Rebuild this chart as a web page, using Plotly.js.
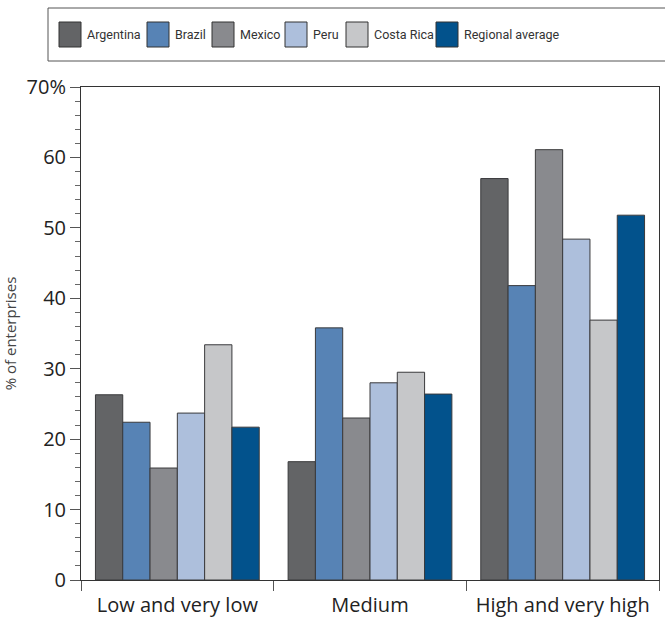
<!DOCTYPE html>
<html>
<head>
<meta charset="utf-8">
<script src="https://cdn.plot.ly/plotly-3.0.1.min.js"></script>
<style>html,body{margin:0;padding:0;background:#fff;}#chart{width:665px;height:618px;}</style>
</head>
<body>
<div id="chart"></div>
<script>
var categories = ["Low and very low", "Medium", "High and very high"];
var seriesNames = ["Argentina", "Brazil", "Mexico", "Peru", "Costa Rica", "Regional average"];
var argentina = [26.3, 16.8, 57.0];
var brazil = [22.4, 35.8, 41.8];
var mexico = [15.9, 23.0, 61.1];
var peru = [23.7, 28.0, 48.4];
var costaRica = [33.4, 29.5, 36.9];
var regionalAverage = [21.7, 26.4, 51.8];
var yTickVals = [0, 10, 20, 30, 40, 50, 60, 70];
var yTickText = ["0", "10", "20", "30", "40", "50", "60", "70%"];

var seriesValues = [argentina, brazil, mexico, peru, costaRica, regionalAverage];
var colors = ["#636466", "#5783b5", "#898a8e", "#adbfdc", "#c6c7c9", "#02528c"];

var W = 665, H = 618;
var M = {l: 81, r: 6, t: 87, b: 38};
var PW = W - M.l - M.r, PH = H - M.t - M.b;
function px(x) { return (x - M.l) / PW; }
function py(y) { return (H - M.b - y) / PH; }

var traces = seriesNames.map(function (name, i) {
  return {
    type: "bar",
    name: name,
    x: categories,
    y: seriesValues[i],
    marker: {color: colors[i], line: {color: "#3a3a3c", width: 1}},
    showlegend: false,
    hoverinfo: "x+y+name"
  };
});

// custom legend
var shapes = [{
  type: "rect", xref: "paper", yref: "paper",
  x0: px(48), x1: px(675), y0: py(8), y1: py(61),
  line: {color: "#555", width: 1}, fillcolor: "rgba(0,0,0,0)"
}];
var annotations = [];
var swX = [59, 147, 212, 285, 346, 436];
seriesNames.forEach(function (name, i) {
  shapes.push({
    type: "rect", xref: "paper", yref: "paper",
    x0: px(swX[i]), x1: px(swX[i] + 22), y0: py(22), y1: py(47),
    line: {color: "#333", width: 1}, fillcolor: colors[i]
  });
  annotations.push({
    xref: "paper", yref: "paper", x: px(swX[i] + 26), y: py(35),
    xanchor: "left", yanchor: "middle", showarrow: false,
    text: name,
    font: {family: "Roboto, Liberation Sans, sans-serif", size: 12.5, color: "#333"}
  });
});

var layout = {
  width: W, height: H,
  margin: M,
  paper_bgcolor: "#fff", plot_bgcolor: "#fff",
  font: {family: "Open Sans, Liberation Sans, sans-serif", color: "#333"},
  barmode: "group",
  bargap: 0.15,
  bargroupgap: 0,
  showlegend: false,
  xaxis: {
    type: "category",
    showline: true, linecolor: "#333", linewidth: 1, mirror: true,
    ticks: "outside", tickson: "boundaries", ticklen: 10, tickcolor: "#555",
    tickfont: {size: 20, color: "#222"},
    ticklabelstandoff: 7,
    showgrid: false, zeroline: false
  },
  yaxis: {
    range: [0, 70],
    showline: true, linecolor: "#333", linewidth: 1, mirror: true,
    tickvals: yTickVals, ticktext: yTickText,
    ticks: "outside", ticklen: 10, tickcolor: "#555",
    tickfont: {size: 20, color: "#222"},
    minor: {dtick: 2, ticks: "outside", ticklen: 5, tickcolor: "#666", showgrid: false},
    showgrid: false, zeroline: false,
    title: {text: "% of enterprises", font: {size: 15, color: "#444"}, standoff: 6}
  },
  shapes: shapes,
  annotations: annotations
};

Plotly.newPlot("chart", traces, layout, {displayModeBar: false, staticPlot: true});
</script>
</body>
</html>
